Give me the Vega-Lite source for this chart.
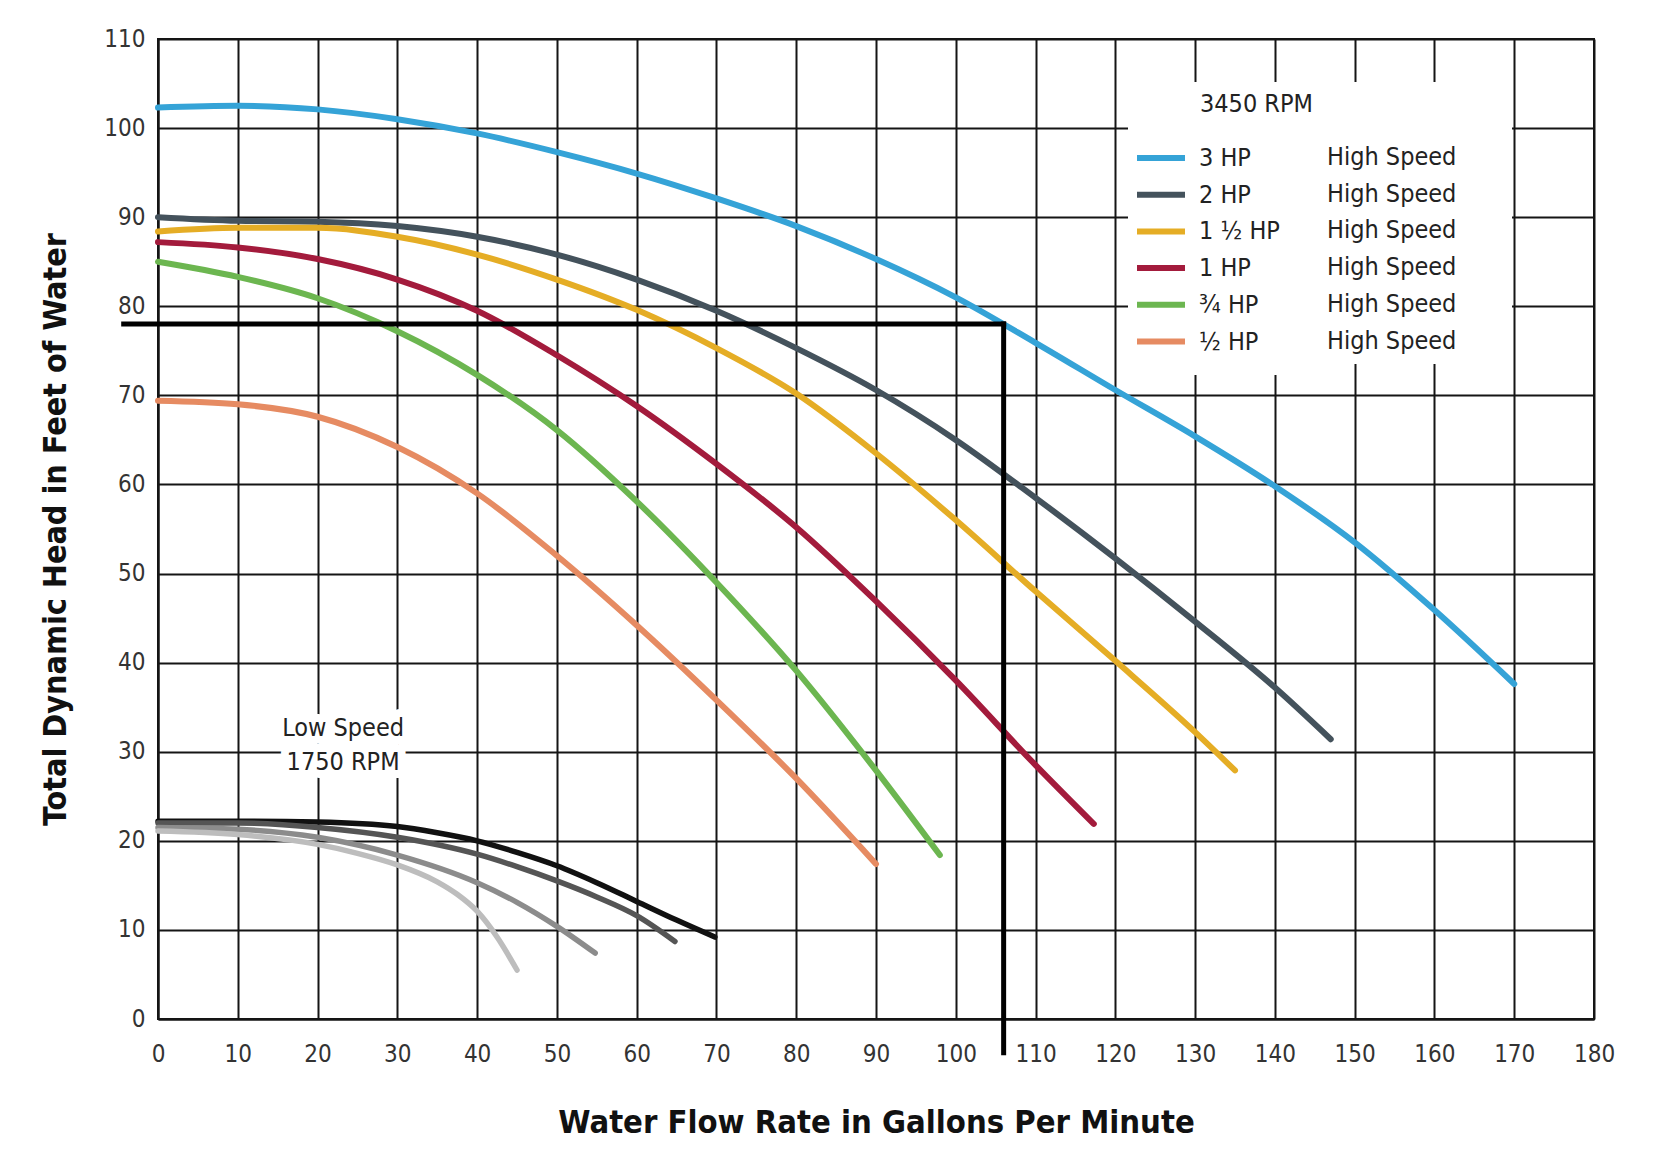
{
  "$schema": "https://vega.github.io/schema/vega-lite/v6.json",
  "width": 1436,
  "height": 980,
  "autosize": {"type": "none"},
  "padding": {"left": 158, "top": 39, "right": 65, "bottom": 134},
  "background": "white",
  "config": {
    "font": "DejaVu Sans Condensed",
    "view": {"stroke": "#151515", "strokeWidth": 2},
    "axis": {
      "grid": true, "gridColor": "#151515", "gridWidth": 2, "gridOpacity": 1,
      "domain": true, "domainColor": "#151515", "domainWidth": 2,
      "ticks": false, "labelFont": "DejaVu Sans Condensed", "labelFontSize": 24, "labelColor": "#333333",
      "labelFlush": false, "labelOverlap": false,
      "titleFont": "DejaVu Sans Condensed", "titleFontWeight": "bold", "titleColor": "#111111"
    }
  },
  "datasets": {
    "high": [
      {"pump": "3 HP", "flow": 0, "head": 102.3}, {"pump": "3 HP", "flow": 10, "head": 102.5}, {"pump": "3 HP", "flow": 20, "head": 102.1},
      {"pump": "3 HP", "flow": 30, "head": 101}, {"pump": "3 HP", "flow": 40, "head": 99.4}, {"pump": "3 HP", "flow": 50, "head": 97.3},
      {"pump": "3 HP", "flow": 60, "head": 94.9}, {"pump": "3 HP", "flow": 70, "head": 92.1}, {"pump": "3 HP", "flow": 80, "head": 89},
      {"pump": "3 HP", "flow": 90, "head": 85.3}, {"pump": "3 HP", "flow": 100, "head": 81}, {"pump": "3 HP", "flow": 110, "head": 75.9},
      {"pump": "3 HP", "flow": 120, "head": 70.6}, {"pump": "3 HP", "flow": 130, "head": 65.4}, {"pump": "3 HP", "flow": 140, "head": 59.8},
      {"pump": "3 HP", "flow": 150, "head": 53.5}, {"pump": "3 HP", "flow": 160, "head": 45.9}, {"pump": "3 HP", "flow": 170, "head": 37.6},
      {"pump": "2 HP", "flow": 0, "head": 90}, {"pump": "2 HP", "flow": 10, "head": 89.6}, {"pump": "2 HP", "flow": 20, "head": 89.5},
      {"pump": "2 HP", "flow": 30, "head": 89}, {"pump": "2 HP", "flow": 40, "head": 87.8}, {"pump": "2 HP", "flow": 50, "head": 85.8},
      {"pump": "2 HP", "flow": 60, "head": 83}, {"pump": "2 HP", "flow": 70, "head": 79.5}, {"pump": "2 HP", "flow": 80, "head": 75.3},
      {"pump": "2 HP", "flow": 90, "head": 70.6}, {"pump": "2 HP", "flow": 100, "head": 65}, {"pump": "2 HP", "flow": 110, "head": 58.5},
      {"pump": "2 HP", "flow": 120, "head": 51.7}, {"pump": "2 HP", "flow": 130, "head": 44.6}, {"pump": "2 HP", "flow": 140, "head": 37.2},
      {"pump": "2 HP", "flow": 147, "head": 31.4},
      {"pump": "1 ½ HP", "flow": 0, "head": 88.4}, {"pump": "1 ½ HP", "flow": 10, "head": 88.8}, {"pump": "1 ½ HP", "flow": 20, "head": 88.8},
      {"pump": "1 ½ HP", "flow": 30, "head": 87.8}, {"pump": "1 ½ HP", "flow": 40, "head": 85.8}, {"pump": "1 ½ HP", "flow": 50, "head": 83},
      {"pump": "1 ½ HP", "flow": 60, "head": 79.6}, {"pump": "1 ½ HP", "flow": 70, "head": 75.3}, {"pump": "1 ½ HP", "flow": 80, "head": 70.2},
      {"pump": "1 ½ HP", "flow": 90, "head": 63.5}, {"pump": "1 ½ HP", "flow": 100, "head": 56}, {"pump": "1 ½ HP", "flow": 110, "head": 48},
      {"pump": "1 ½ HP", "flow": 120, "head": 40.2}, {"pump": "1 ½ HP", "flow": 130, "head": 32.2}, {"pump": "1 ½ HP", "flow": 135, "head": 27.9},
      {"pump": "1 HP", "flow": 0, "head": 87.2}, {"pump": "1 HP", "flow": 10, "head": 86.6}, {"pump": "1 HP", "flow": 20, "head": 85.3},
      {"pump": "1 HP", "flow": 30, "head": 83}, {"pump": "1 HP", "flow": 40, "head": 79.5}, {"pump": "1 HP", "flow": 50, "head": 74.5},
      {"pump": "1 HP", "flow": 60, "head": 68.8}, {"pump": "1 HP", "flow": 70, "head": 62.3}, {"pump": "1 HP", "flow": 80, "head": 55.2},
      {"pump": "1 HP", "flow": 90, "head": 46.9}, {"pump": "1 HP", "flow": 100, "head": 38}, {"pump": "1 HP", "flow": 110, "head": 28.5},
      {"pump": "1 HP", "flow": 117.3, "head": 21.9},
      {"pump": "¾ HP", "flow": 0, "head": 85}, {"pump": "¾ HP", "flow": 10, "head": 83.3}, {"pump": "¾ HP", "flow": 20, "head": 80.9},
      {"pump": "¾ HP", "flow": 30, "head": 77.2}, {"pump": "¾ HP", "flow": 40, "head": 72.3}, {"pump": "¾ HP", "flow": 50, "head": 66.1},
      {"pump": "¾ HP", "flow": 60, "head": 58.1}, {"pump": "¾ HP", "flow": 70, "head": 49}, {"pump": "¾ HP", "flow": 80, "head": 39.1},
      {"pump": "¾ HP", "flow": 90, "head": 27.9}, {"pump": "¾ HP", "flow": 98, "head": 18.4},
      {"pump": "½ HP", "flow": 0, "head": 69.4}, {"pump": "½ HP", "flow": 10, "head": 69}, {"pump": "½ HP", "flow": 20, "head": 67.6},
      {"pump": "½ HP", "flow": 30, "head": 64.2}, {"pump": "½ HP", "flow": 40, "head": 59}, {"pump": "½ HP", "flow": 50, "head": 52},
      {"pump": "½ HP", "flow": 60, "head": 44.2}, {"pump": "½ HP", "flow": 70, "head": 35.8}, {"pump": "½ HP", "flow": 80, "head": 27},
      {"pump": "½ HP", "flow": 90, "head": 17.4}
    ],
    "low": [
      {"pump": "3 HP Low Speed", "flow": 0, "head": 22.2}, {"pump": "3 HP Low Speed", "flow": 10, "head": 22.2}, {"pump": "3 HP Low Speed", "flow": 20, "head": 22.1},
      {"pump": "3 HP Low Speed", "flow": 30, "head": 21.6}, {"pump": "3 HP Low Speed", "flow": 35, "head": 20.9}, {"pump": "3 HP Low Speed", "flow": 40, "head": 20},
      {"pump": "3 HP Low Speed", "flow": 45, "head": 18.7}, {"pump": "3 HP Low Speed", "flow": 50, "head": 17.2}, {"pump": "3 HP Low Speed", "flow": 55, "head": 15.3},
      {"pump": "3 HP Low Speed", "flow": 60, "head": 13.2}, {"pump": "3 HP Low Speed", "flow": 65, "head": 11.1}, {"pump": "3 HP Low Speed", "flow": 69.8, "head": 9.2},
      {"pump": "2 HP Low Speed", "flow": 0, "head": 22}, {"pump": "2 HP Low Speed", "flow": 10, "head": 22}, {"pump": "2 HP Low Speed", "flow": 20, "head": 21.5},
      {"pump": "2 HP Low Speed", "flow": 30, "head": 20.4}, {"pump": "2 HP Low Speed", "flow": 40, "head": 18.5}, {"pump": "2 HP Low Speed", "flow": 45, "head": 17.1},
      {"pump": "2 HP Low Speed", "flow": 50, "head": 15.5}, {"pump": "2 HP Low Speed", "flow": 55, "head": 13.7}, {"pump": "2 HP Low Speed", "flow": 60, "head": 11.6},
      {"pump": "2 HP Low Speed", "flow": 64.8, "head": 8.7},
      {"pump": "1 ½ HP Low Speed", "flow": 0, "head": 21.5}, {"pump": "1 ½ HP Low Speed", "flow": 10, "head": 21.3}, {"pump": "1 ½ HP Low Speed", "flow": 20, "head": 20.4},
      {"pump": "1 ½ HP Low Speed", "flow": 30, "head": 18.4}, {"pump": "1 ½ HP Low Speed", "flow": 40, "head": 15.3}, {"pump": "1 ½ HP Low Speed", "flow": 45, "head": 13.1},
      {"pump": "1 ½ HP Low Speed", "flow": 50, "head": 10.4}, {"pump": "1 ½ HP Low Speed", "flow": 54.8, "head": 7.4},
      {"pump": "1 HP Low Speed", "flow": 0, "head": 21.1}, {"pump": "1 HP Low Speed", "flow": 10, "head": 20.7}, {"pump": "1 HP Low Speed", "flow": 20, "head": 19.6},
      {"pump": "1 HP Low Speed", "flow": 25, "head": 18.6}, {"pump": "1 HP Low Speed", "flow": 30, "head": 17.3}, {"pump": "1 HP Low Speed", "flow": 35, "head": 15.4},
      {"pump": "1 HP Low Speed", "flow": 37.5, "head": 14}, {"pump": "1 HP Low Speed", "flow": 40, "head": 12.1}, {"pump": "1 HP Low Speed", "flow": 42.5, "head": 9.2},
      {"pump": "1 HP Low Speed", "flow": 45, "head": 5.5}
    ],
    "refline": [
      {"flow": -4.3, "head": 78, "flow2": 106, "head2": 78},
      {"flow": 106, "head": 78, "flow2": 106, "head2": -3.8}
    ],
    "note": [
      {"flow": 23.2, "head": 32.7, "label": "Low Speed\n1750 RPM"}
    ]
  },
  "encoding": {
    "x": {
      "field": "flow", "type": "quantitative",
      "scale": {"domain": [0, 180], "nice": false, "zero": false},
      "axis": {
        "title": "Water Flow Rate in Gallons Per Minute",
        "values": [0, 10, 20, 30, 40, 50, 60, 70, 80, 90, 100, 110, 120, 130, 140, 150, 160, 170, 180],
        "labelPadding": 23, "titlePadding": 40, "titleFontSize": 32.5
      }
    },
    "y": {
      "field": "head", "type": "quantitative",
      "scale": {"domain": [0, 110], "nice": false, "zero": false},
      "axis": {
        "title": "Total Dynamic Head in Feet of Water",
        "values": [0, 10, 20, 30, 40, 50, 60, 70, 80, 90, 100, 110],
        "labelPadding": 13, "titlePadding": 31, "titleFontSize": 32
      }
    }
  },
  "layer": [
    {
      "data": {"name": "low"},
      "mark": {"type": "line", "interpolate": "monotone", "strokeWidth": 5.5, "strokeCap": "round"},
      "encoding": {
        "stroke": {
          "field": "pump", "type": "nominal",
          "scale": {"domain": ["3 HP Low Speed", "2 HP Low Speed", "1 ½ HP Low Speed", "1 HP Low Speed"], "range": ["#111111", "#555555", "#8c8c8c", "#bdbdbd"]},
          "legend": null
        }
      }
    },
    {
      "data": {"name": "high"},
      "mark": {"type": "line", "interpolate": "monotone", "strokeWidth": 6, "strokeCap": "round"},
      "encoding": {
        "color": {
          "field": "pump", "type": "nominal",
          "scale": {"domain": ["3 HP", "2 HP", "1 ½ HP", "1 HP", "¾ HP", "½ HP"], "range": ["#35a3d7", "#44525c", "#e5ad25", "#a31b3c", "#6cb650", "#e68b62"]},
          "legend": {
            "orient": "none", "legendX": 970, "legendY": 83, "zindex": 2,
            "title": null,
            "fillColor": "white", "padding": 20,
            "symbolType": "M-1.846,0H1.846", "symbolSize": 676, "symbolStrokeWidth": 6, "symbolOffset": -3,
            "labelOffset": 22, "labelFont": "DejaVu Sans Condensed", "labelFontSize": 25, "labelColor": "#222222", "labelLimit": 400,
            "rowPadding": 7.7
          }
        },
        "opacity": {
          "field": "pump", "type": "nominal",
          "scale": {"range": [1, 1, 1, 1, 1, 1]},
          "legend": {
            "orient": "none", "legendX": 1032, "legendY": 43, "zindex": 1,
            "title": "3450 RPM",
            "titleFont": "DejaVu Sans Condensed", "titleFontSize": 25, "titleFontWeight": "normal", "titleColor": "#222222",
            "titlePadding": 24,
            "fillColor": "white", "padding": 10,
            "symbolType": "stroke", "symbolSize": 1024, "symbolStrokeWidth": 0, "symbolStrokeColor": "transparent", "symbolOffset": 270,
            "labelOffset": -175, "labelExpr": "'High Speed'",
            "labelFont": "DejaVu Sans Condensed", "labelFontSize": 25, "labelColor": "#222222", "labelLimit": 400,
            "rowPadding": 7.7
          }
        }
      }
    },
    {
      "data": {"name": "refline"},
      "mark": {"type": "rule", "color": "#000000", "strokeWidth": 5, "strokeCap": "square"},
      "encoding": {
        "x2": {"field": "flow2"},
        "y2": {"field": "head2"}
      }
    },
    {
      "data": {"name": "note"},
      "mark": {"type": "text", "lineBreak": "\n", "lineHeight": 34, "fontSize": 25, "font": "DejaVu Sans Condensed", "align": "center", "baseline": "middle", "fill": "white", "stroke": "white", "strokeWidth": 16, "strokeJoin": "round"},
      "encoding": {"text": {"field": "label"}}
    },
    {
      "data": {"name": "note"},
      "mark": {"type": "text", "lineBreak": "\n", "lineHeight": 34, "fontSize": 25, "font": "DejaVu Sans Condensed", "align": "center", "baseline": "middle", "color": "#222222"},
      "encoding": {"text": {"field": "label"}}
    }
  ]
}
